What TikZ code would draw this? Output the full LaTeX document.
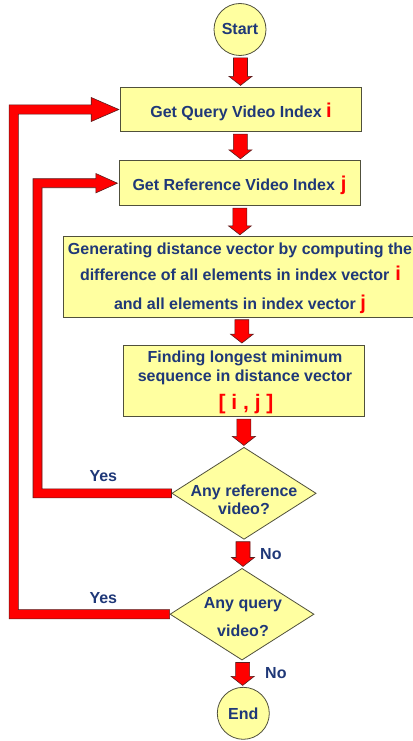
\documentclass[tikz,border=0pt]{standalone}
\usepackage{fontspec}
\setmainfont{Liberation Sans}
\usetikzlibrary{shapes.geometric,calc}
\definecolor{boxfill}{RGB}{255,255,160}
\definecolor{boxline}{RGB}{80,80,60}
\definecolor{txtblue}{RGB}{31,56,120}
\definecolor{arrred}{RGB}{255,0,0}
\definecolor{arrline}{RGB}{90,30,30}
\newcommand{\redl}[1]{{\color{arrred}\fontsize{20}{22}\selectfont #1}}
\newcommand{\blockdown}[2]{%
 \draw[redarrow] let \p1=($(#1.south)!0.5!(#2.north)$), \p2=(#1.south), \p3=(#2.north) in
 (\x1-7pt,\y2-2pt) -- (\x1+7pt,\y2-2pt) -- (\x1+7pt,\y3+10.5pt) -- (\x1+11.5pt,\y3+10.5pt)
 -- (\x1,\y3+1.5pt) -- (\x1-11.5pt,\y3+10.5pt) -- (\x1-7pt,\y3+10.5pt) -- cycle;}
\newcommand{\loopback}[6]{%
 \draw[redarrow] let \p1=(#1.west), \p2=(#2.west) in
 (\x1,\y1+#4) -- (#3+#4,\y1+#4) -- (#3+#4,\y2-#4) -- (\x2-1.5pt-#5,\y2-#4)
 -- (\x2-1.5pt-#5,\y2-#6) -- (\x2-1.5pt,\y2) -- (\x2-1.5pt-#5,\y2+#6)
 -- (\x2-1.5pt-#5,\y2+#4) -- (#3-#4,\y2+#4) -- (#3-#4,\y1-#4) -- (\x1,\y1-#4) -- cycle;}
\tikzset{
 procbox/.style={draw=boxline, fill=boxfill, line width=0.8pt, rectangle, inner sep=0pt},
 termcircle/.style={draw=boxline, fill=boxfill, line width=0.8pt, circle, inner sep=0pt, minimum size=52pt},
 decision/.style={draw=boxline, fill=boxfill, line width=0.8pt, diamond, inner sep=0pt},
 txt/.style={font=\bfseries\fontsize{16}{19}\selectfont, text=txtblue, inner sep=0pt, anchor=base},
 redarrow/.style={fill=arrred, draw=arrline, line width=0.6pt, line join=miter},
}
\begin{document}
\begin{tikzpicture}[x=1pt,y=-1pt]
\useasboundingbox (0,0) rectangle (412,741);
% shapes
\node[termcircle] (start) at (240,29.5) {};
\node[procbox, minimum width=240.6pt, minimum height=44.4pt] (q) at (241,109.5) {};
\node[procbox, minimum width=241pt, minimum height=45pt] (r) at (239.8,183.2) {};
\node[procbox, minimum width=354pt, minimum height=80.6pt] (g) at (240,277) {};
\node[procbox, minimum width=241pt, minimum height=71.7pt] (f) at (243.8,380.8) {};
\node[decision, minimum width=144.3pt, minimum height=92pt] (d1) at (244,493.3) {};
\node[decision, minimum width=144pt, minimum height=91.7pt] (d2) at (242,614.2) {};
\node[termcircle] (end) at (243.3,713.3) {};
% texts
\node[txt] (tstart) at (240,35) {Start};
\node[txt] (tq) at (241,117.5) {Get Query Video Index \redl{i}};
\node[txt] (tr) at (239.5,190) {Get Reference Video Index\hspace{6pt}\redl{j}};
\node[txt] (tg1) at (240,254) {Generating distance vector by computing the};
\node[txt] (tg2) at (240.5,280) {difference of all elements in index vector\hspace{6pt}\redl{i}};
\node[txt] (tg3) at (240,309) {and all elements in index vector \redl{j}};
\node[txt] (tf1) at (245,362.3) {Finding longest minimum};
\node[txt] (tf2) at (245,381.7) {sequence in distance vector};
\node[txt, font=\bfseries\fontsize{21}{22}\selectfont, text=arrred] (tf3) at (246,409) {[ i , j ]};
\node[txt] (td1a) at (244,496) {Any reference};
\node[txt] (td1b) at (244,514) {video?};
\node[txt] (td2a) at (243,608.3) {Any query};
\node[txt] (td2b) at (243,636.7) {video?};
\node[txt] (tend) at (243.3,719) {End};
% arrows
\blockdown{start}{q}
\blockdown{q}{r}
\blockdown{r}{g}
\blockdown{g}{f}
\blockdown{f}{d1}
\blockdown{d1}{d2}
\blockdown{d2}{end}
\loopback{d1}{r}{37.5pt}{4.5pt}{21.6pt}{9.7pt}
\loopback{d2}{q}{13.7pt}{4.6pt}{27.6pt}{12pt}
% labels
\node[txt] (yes1) at (103.3,481) {Yes};
\node[txt] (yes2) at (103.3,603.3) {Yes};
\node[txt, anchor=base west] (no1) at (260,559) {No};
\node[txt, anchor=base west] (no2) at (265,678.3) {No};
\end{tikzpicture}
\end{document}
